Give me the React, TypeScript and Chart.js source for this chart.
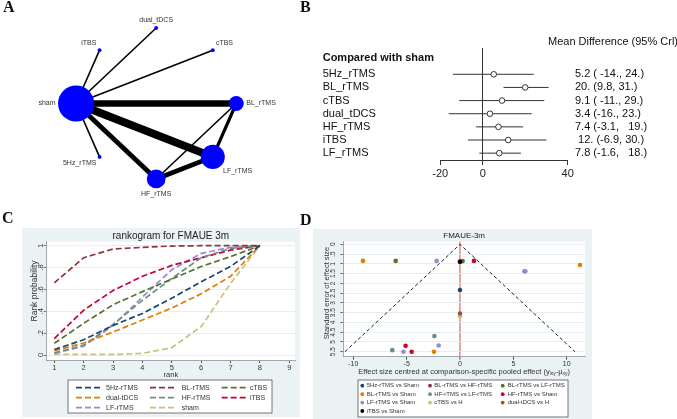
import React, { useEffect, useRef } from 'react';
import { Chart, registerables } from 'chart.js';
Chart.register(...registerables);

const FONT = '"Liberation Sans", Arial, Helvetica, sans-serif';

// ---------------- Panel A: network ----------------
const nodeNames = ['sham', '5Hz_rTMS', 'HF_rTMS', 'LF_rTMS', 'BL_rTMS', 'cTBS', 'dual_tDCS', 'iTBS'];
const nodeParticipants = [260, 3, 70, 115, 45, 3, 3, 3];
const edgeFrom = ['sham', 'sham', 'sham', 'sham', 'sham', 'sham', 'sham', 'BL_rTMS', 'BL_rTMS', 'LF_rTMS'];
const edgeTo = ['BL_rTMS', 'LF_rTMS', 'HF_rTMS', 'iTBS', 'dual_tDCS', 'cTBS', '5Hz_rTMS', 'LF_rTMS', 'HF_rTMS', 'HF_rTMS'];
const edgeStudies = [4, 5, 3, 1, 1, 1, 1, 2, 1, 3];

// ---------------- Panel B: forest ----------------
const forestLabels = ['5Hz_rTMS', 'BL_rTMS', 'cTBS', 'dual_tDCS', 'HF_rTMS', 'iTBS', 'LF_rTMS'];
const forestMean = [5.2, 20, 9.1, 3.4, 7.4, 12, 7.8];
const forestLo = [-14, 9.8, -11, -16, -3.1, -6.9, -1.6];
const forestHi = [24, 31, 29, 23, 19, 30, 18];
const forestText = ['5.2 ( -14., 24.)', '20. (9.8, 31.)', '9.1 ( -11., 29.)', '3.4 (-16., 23.)', '7.4 (-3.1,   19.)', ' 12. (-6.9, 30.)', '7.8 (-1.6,   18.)'];
const forestTicks = [-20, 0, 40];

// ---------------- Panel C: rankogram ----------------
const ranks = [1, 2, 3, 4, 5, 6, 7, 8];
const rankSeriesNames = ['5Hz-rTMS', 'BL-rTMS', 'cTBS', 'dual-tDCS', 'HF-rTMS', 'iTBS', 'LF-rTMS', 'sham'];
const rank5Hz = [0.05, 0.14, 0.27, 0.38, 0.52, 0.67, 0.81, 1];
const rankBL = [0.66, 0.89, 0.97, 0.985, 0.997, 1, 1, 1];
const rankCTBS = [0.107, 0.29, 0.46, 0.58, 0.695, 0.81, 0.9, 1];
const rankDual = [0.04, 0.11, 0.21, 0.32, 0.43, 0.56, 0.72, 1];
const rankHF = [0.02, 0.09, 0.28, 0.5, 0.7, 0.89, 0.975, 1];
const rankITBS = [0.15, 0.41, 0.59, 0.72, 0.82, 0.89, 0.96, 1];
const rankLF = [0.015, 0.08, 0.27, 0.53, 0.78, 0.93, 0.985, 1];
const rankSham = [0.005, 0.005, 0.005, 0.015, 0.067, 0.26, 0.655, 1];
const rankValues = [rank5Hz, rankBL, rankCTBS, rankDual, rankHF, rankITBS, rankLF, rankSham];
const rankXTicks = [1, 2, 3, 4, 5, 6, 7, 8, 9];
const rankYTicks = [0, 0.2, 0.4, 0.6, 0.8, 1];
const rankYTickLabels = ['0', '.2', '.4', '.6', '.8', '1'];
const rankColors = ['#1a476f', '#90353b', '#55752f', '#e37e00', '#6e8e84', '#c10534', '#938dd2', '#cac27e'];

// ---------------- Panel D: funnel ----------------
const funnelSeries = ['5Hz-rTMS vs Sham', 'BL-rTMS vs HF-rTMS', 'BL-rTMS vs LF-rTMS', 'BL-rTMS vs Sham', 'HF-rTMS vs LF-rTMS', 'HF-rTMS vs Sham', 'LF-rTMS vs Sham', 'cTBS vs H', 'dual-tDCS vs H', 'iTBS vs Sham'];
const eff5HzSham = [0];
const se5HzSham = [2.34];
const effBLHF = [0];
const seBLHF = [0.88];
const effBLLF = [-6.03, 0.25];
const seBLLF = [0.85, 0.86];
const effBLSham = [-9.1, 11.25, -2.44];
const seBLSham = [0.85, 1.06, 5.5];
const effHFLF = [6.05, -2.4, -6.35];
const seHFLF = [1.38, 4.7, 5.42];
const effHFSham = [1.31, -5.1, -4.53];
const seHFSham = [0.85, 5.2, 5.5];
const effLFSham = [-2.19, 6.13, -2.0, -5.3];
const seLFSham = [0.85, 1.38, 5.18, 5.5];
const effCTBS = [0];
const seCTBS = [3.68];
const effDual = [0];
const seDual = [3.54];
const effITBS = [0];
const seITBS = [0.89];
const funnelEffects = [eff5HzSham, effBLHF, effBLLF, effBLSham, effHFLF, effHFSham, effLFSham, effCTBS, effDual, effITBS];
const funnelSEs = [se5HzSham, seBLHF, seBLLF, seBLSham, seHFLF, seHFSham, seLFSham, seCTBS, seDual, seITBS];
const funnelLineX = [-10.78, 0, 10.78];
const funnelLineY = [5.5, 0, 5.5];
const funnelXTicks = [-10, -5, 0, 5, 10];
const seTicks = [0, 0.5, 1, 1.5, 2, 2.5, 3, 3.5, 4, 4.5, 5, 5.5];
const seTickLabels = ['0', '.5', '1', '1.5', '2', '2.5', '3', '3.5', '4', '4.5', '5', '5.5'];
const funnelColors = ['#1a476f', '#90353b', '#55752f', '#e37e00', '#6e8e84', '#c10534', '#938dd2', '#cac27e', '#a0522d', '#000000'];

const STATA_BG = '#eaf2f3';
const GRID = '#e1eaed';

function makeNetwork(): any {
  const pos = nodeNames.map((_, i) => {
    const a = Math.PI + (i * Math.PI) / 4;
    return { x: Math.cos(a), y: Math.sin(a) };
  });
  const idx = (n: string) => nodeNames.indexOf(n);
  const edges = edgeFrom.map((f, k) => ({
    type: 'line',
    data: [pos[idx(f)], pos[idx(edgeTo[k])]],
    borderColor: '#000',
    borderWidth: 1.6 * edgeStudies[k],
    pointRadius: 0,
    order: 1,
  }));
  const nodes = {
    type: 'scatter',
    data: pos,
    pointRadius: nodeParticipants.map((n) => 1.12 * Math.sqrt(n)),
    backgroundColor: '#0000ff',
    borderWidth: 0,
    order: 0,
  };
  const labels = {
    id: 'nodeLabels',
    afterDatasetsDraw(chart: any) {
      const ctx = chart.ctx;
      const meta = chart.getDatasetMeta(0);
      ctx.save();
      ctx.font = `7px ${FONT}`;
      ctx.fillStyle = '#333';
      meta.data.forEach((pt: any, i: number) => {
        const a = Math.PI + (i * Math.PI) / 4;
        const dx = Math.cos(a);
        const dy = -Math.sin(a);
        const r = pt.options.radius + 2.5;
        ctx.textAlign = dx < -0.3 ? 'right' : dx > 0.3 ? 'left' : 'center';
        ctx.textBaseline = dy < -0.3 ? 'bottom' : dy > 0.3 ? 'top' : 'middle';
        ctx.fillText(nodeNames[i], pt.x + dx * r, pt.y + dy * r);
      });
      ctx.restore();
    },
  };
  return {
    type: 'scatter',
    data: { datasets: [nodes, ...edges] },
    options: {
      animation: false,
      responsive: false,
      events: [],
      layout: { padding: 0 },
      plugins: { legend: { display: false }, tooltip: { enabled: false } },
      scales: {
        x: { type: 'linear', min: -1.725, max: 1.571, display: false },
        y: { type: 'linear', min: -1.198, max: 1.132, display: false },
      },
    },
    plugins: [labels],
  };
}

function makeForest(): any {
  const bars = forestLabels.map((_, i) => ({
    type: 'line',
    data: [
      { x: forestLo[i], y: i },
      { x: forestHi[i], y: i },
    ],
    borderColor: '#333',
    borderWidth: 1,
    pointRadius: 0,
    order: 1,
  }));
  const means = {
    type: 'scatter',
    data: forestMean.map((m, i) => ({ x: m, y: i })),
    pointRadius: 2.8,
    backgroundColor: '#fff',
    borderColor: '#333',
    borderWidth: 1,
    order: 0,
  };
  const text = {
    id: 'forestText',
    afterDraw(chart: any) {
      const ctx = chart.ctx;
      const y = chart.scales.y;
      const a = chart.chartArea;
      ctx.save();
      ctx.fillStyle = '#111';
      ctx.textBaseline = 'middle';
      ctx.textAlign = 'left';
      ctx.font = `11px ${FONT}`;
      ctx.fillText('Mean Difference (95% Crl)', 248, a.top - 5.7);
      ctx.font = `bold 11px ${FONT}`;
      ctx.fillText('Compared with sham', 22.7, y.getPixelForValue(-1.22));
      ctx.font = `11px ${FONT}`;
      forestLabels.forEach((l, i) => {
        const py = y.getPixelForValue(i);
        ctx.fillText(l, 22.7, py);
        ctx.fillText(forestText[i], 275, py);
      });
      ctx.restore();
    },
  };
  return {
    type: 'scatter',
    data: { datasets: [means, ...bars] },
    options: {
      animation: false,
      responsive: false,
      events: [],
      layout: { padding: { left: 140.2, right: 109.3, top: 48, bottom: 0 } },
      plugins: { legend: { display: false }, tooltip: { enabled: false } },
      scales: {
        x: {
          type: 'linear',
          min: -20,
          max: 40,
          afterBuildTicks: (s: any) => {
            s.ticks = forestTicks.map((v) => ({ value: v }));
          },
          afterFit: (s: any) => {
            s.height = 52;
          },
          ticks: { font: { family: FONT, size: 11 }, color: '#222', padding: 2, maxRotation: 0, autoSkip: false },
          grid: {
            color: (c: any) => (c.tick && c.tick.value === 0 ? '#333' : 'rgba(0,0,0,0)'),
            tickColor: '#333',
            tickLength: 5,
            lineWidth: 1,
          },
          border: { color: '#333', width: 1 },
        },
        y: { type: 'linear', reverse: true, min: -2, max: 6.52, display: false },
      },
    },
    plugins: [text],
  };
}

function bgPlugin() {
  return {
    id: 'stataBg',
    beforeDraw(chart: any) {
      const { ctx, width, height, chartArea: a } = chart;
      ctx.save();
      ctx.fillStyle = STATA_BG;
      ctx.fillRect(0, 0, width, height);
      ctx.fillStyle = '#fff';
      ctx.fillRect(a.left, a.top, a.right - a.left, a.bottom - a.top);
      ctx.restore();
    },
  };
}

function drawRotated(ctx: any, text: string, x: number, y: number) {
  ctx.save();
  ctx.translate(x, y);
  ctx.rotate(-Math.PI / 2);
  ctx.fillText(text, 0, 0);
  ctx.restore();
}

function makeRankogram(): any {
  const datasets = rankSeriesNames.map((name, i) => ({
    type: 'line',
    label: name,
    data: ranks.map((r, k) => ({ x: r, y: rankValues[i][k] })),
    borderColor: rankColors[i],
    borderWidth: 1.7,
    borderDash: [6, 3],
    pointRadius: 0,
    tension: 0,
  }));
  const deco = {
    id: 'rankDeco',
    afterDraw(chart: any) {
      const ctx = chart.ctx;
      const a = chart.chartArea;
      const y = chart.scales.y;
      ctx.save();
      ctx.fillStyle = '#222';
      ctx.textAlign = 'center';
      ctx.textBaseline = 'middle';
      ctx.font = `10px ${FONT}`;
      ctx.fillText('rankogram for FMAUE 3m', (a.left + a.right) / 2, 8);
      ctx.font = `8.5px ${FONT}`;
      ctx.fillStyle = '#333';
      drawRotated(ctx, 'Rank probability', 12.3, 63);
      ctx.font = `7.5px ${FONT}`;
      rankYTicks.forEach((v, i) => drawRotated(ctx, rankYTickLabels[i], 18.7, y.getPixelForValue(v)));
      // legend
      const bx = 46, by = 152, bw = 204, bh = 33;
      ctx.fillStyle = '#fff';
      ctx.fillRect(bx, by, bw, bh);
      ctx.strokeStyle = '#555';
      ctx.lineWidth = 0.8;
      ctx.strokeRect(bx, by, bw, bh);
      const lineX = [54, 128, 199.7];
      const textX = [84, 159.7, 228];
      ctx.font = `7px ${FONT}`;
      ctx.textAlign = 'left';
      chart.data.datasets.forEach((ds: any, i: number) => {
        const col = i % 3;
        const row = Math.floor(i / 3);
        const ly = by + 7.7 + row * 10;
        ctx.strokeStyle = ds.borderColor;
        ctx.lineWidth = 1.7;
        ctx.setLineDash([6, 3]);
        ctx.beginPath();
        ctx.moveTo(lineX[col], ly);
        ctx.lineTo(lineX[col] + 25, ly);
        ctx.stroke();
        ctx.setLineDash([]);
        ctx.fillStyle = '#333';
        ctx.fillText(ds.label, textX[col], ly);
      });
      ctx.restore();
    },
  };
  return {
    type: 'scatter',
    data: { datasets },
    options: {
      animation: false,
      responsive: false,
      events: [],
      layout: { padding: { left: 0, right: 5, top: 13.7, bottom: 38 } },
      plugins: { legend: { display: false }, tooltip: { enabled: false } },
      scales: {
        x: {
          type: 'linear',
          min: 0.741,
          max: 9.194,
          afterBuildTicks: (s: any) => {
            s.ticks = rankXTicks.map((v) => ({ value: v }));
          },
          afterFit: (s: any) => {
            s.height = 19;
          },
          ticks: { font: { family: FONT, size: 7.5 }, color: '#333', padding: 0, maxRotation: 0, autoSkip: false },
          grid: { drawOnChartArea: false, tickColor: '#555', tickLength: 3 },
          border: { color: '#8a9498', width: 0.8 },
          title: { display: true, text: 'rank', font: { family: FONT, size: 7.5 }, color: '#333', padding: 0 },
        },
        y: {
          type: 'linear',
          min: -0.0457,
          max: 1.0366,
          afterBuildTicks: (s: any) => {
            s.ticks = rankYTicks.map((v) => ({ value: v }));
          },
          afterFit: (s: any) => {
            s.width = 24.7;
          },
          ticks: { display: false },
          grid: { color: GRID, lineWidth: 0.8, tickColor: '#555', tickLength: 3 },
          border: { color: '#8a9498', width: 0.8 },
        },
      },
    },
    plugins: [bgPlugin(), deco],
  };
}

function makeFunnel(): any {
  const points = funnelSeries.map((name, i) => ({
    type: 'scatter',
    label: name,
    data: funnelEffects[i].map((e, k) => ({ x: e, y: funnelSEs[i][k] })),
    backgroundColor: funnelColors[i],
    borderWidth: 0,
    pointRadius: 2.3,
    order: -i,
  }));
  const funnel = {
    type: 'line',
    label: 'funnel',
    data: funnelLineX.map((x, k) => ({ x, y: funnelLineY[k] })),
    borderColor: '#222',
    borderWidth: 1,
    borderDash: [3.5, 2.5],
    pointRadius: 0,
    order: 5,
  };
  const deco = {
    id: 'funnelDeco',
    afterDraw(chart: any) {
      const ctx = chart.ctx;
      const a = chart.chartArea;
      const y = chart.scales.y;
      const cx = (a.left + a.right) / 2;
      ctx.save();
      ctx.fillStyle = '#222';
      ctx.textAlign = 'center';
      ctx.textBaseline = 'middle';
      ctx.font = `8px ${FONT}`;
      ctx.fillText('FMAUE-3m', cx, 6.7);
      ctx.fillStyle = '#333';
      ctx.font = `7.5px ${FONT}`;
      drawRotated(ctx, 'Standard error of effect size', 13.7, 64);
      ctx.font = `6.5px ${FONT}`;
      seTicks.forEach((v, i) => drawRotated(ctx, seTickLabels[i], 20, y.getPixelForValue(v)));
      // x title with subscripts
      const parts: [string, boolean][] = [
        ['Effect size centred at comparison-specific pooled effect (', false],
        ['y', false],
        ['ixy', true],
        ['-\u03bc', false],
        ['xy', true],
        [')', false],
      ];
      const mainF = `7.5px ${FONT}`;
      const subF = `5px ${FONT}`;
      let total = 0;
      parts.forEach(([t, s]) => {
        ctx.font = s ? subF : mainF;
        total += ctx.measureText(t).width;
      });
      let x = cx - total / 2;
      ctx.textAlign = 'left';
      const ty = 143.3;
      parts.forEach(([t, s]) => {
        ctx.font = s ? subF : mainF;
        ctx.fillText(t, x, s ? ty + 1.8 : ty);
        x += ctx.measureText(t).width;
      });
      // legend
      const bx = 45, by = 151, bw = 210, bh = 37;
      ctx.fillStyle = '#fff';
      ctx.fillRect(bx, by, bw, bh);
      ctx.strokeStyle = '#555';
      ctx.lineWidth = 0.8;
      ctx.strokeRect(bx, by, bw, bh);
      const mX = [49.3, 117, 189.7];
      const tX = [53.7, 121.3, 194.7];
      ctx.font = `6px ${FONT}`;
      funnelSeries.forEach((name, i) => {
        const col = i % 3;
        const row = Math.floor(i / 3);
        const ly = by + 5.7 + row * 8.43;
        ctx.fillStyle = funnelColors[i];
        ctx.beginPath();
        ctx.arc(mX[col], ly, 1.9, 0, Math.PI * 2);
        ctx.fill();
        ctx.fillStyle = '#333';
        ctx.fillText(name, tX[col], ly);
      });
      ctx.restore();
    },
  };
  return {
    type: 'scatter',
    data: { datasets: [...points, funnel] },
    options: {
      animation: false,
      responsive: false,
      events: [],
      layout: { padding: { left: 0, right: 7, top: 12.7, bottom: 42.3 } },
      plugins: { legend: { display: false }, tooltip: { enabled: false } },
      scales: {
        x: {
          type: 'linear',
          min: -10.94,
          max: 11.72,
          afterBuildTicks: (s: any) => {
            s.ticks = funnelXTicks.map((v) => ({ value: v }));
          },
          afterFit: (s: any) => {
            s.height = 20;
          },
          ticks: { font: { family: FONT, size: 7 }, color: '#333', padding: 0, maxRotation: 0, autoSkip: false },
          grid: {
            color: (c: any) => (c.tick && c.tick.value === 0 ? '#e79a9a' : 'rgba(0,0,0,0)'),
            lineWidth: (c: any) => (c.tick && c.tick.value === 0 ? 1.8 : 1),
            tickColor: '#555',
            tickWidth: 1,
            tickLength: 3,
          },
          border: { color: '#8a9498', width: 0.8 },
        },
        y: {
          type: 'linear',
          reverse: true,
          min: -0.133,
          max: 5.756,
          afterBuildTicks: (s: any) => {
            s.ticks = seTicks.map((v) => ({ value: v }));
          },
          afterFit: (s: any) => {
            s.width = 30.3;
          },
          ticks: { display: false },
          grid: { color: GRID, lineWidth: 0.8, tickColor: '#555', tickLength: 3 },
          border: { color: '#8a9498', width: 0.8 },
        },
      },
    },
    plugins: [bgPlugin(), deco],
  };
}

function ChartBox(props: { left: number; top: number; width: number; height: number; make: () => any }) {
  const ref = useRef<HTMLCanvasElement>(null);
  useEffect(() => {
    const chart = new Chart(ref.current as HTMLCanvasElement, props.make());
    return () => chart.destroy();
  }, []);
  return (
    <canvas
      ref={ref}
      width={props.width}
      height={props.height}
      style={{ position: 'absolute', left: props.left, top: props.top, width: props.width, height: props.height }}
    />
  );
}

const letterStyle: React.CSSProperties = {
  position: 'absolute',
  fontFamily: '"Liberation Serif", "Times New Roman", serif',
  fontWeight: 'bold',
  fontSize: 16,
  lineHeight: '16px',
  color: '#111',
  zIndex: 2,
};

export default function App() {
  return (
    <div style={{ position: 'absolute', left: 0, top: 0, width: 677, height: 419, background: '#fff', overflow: 'hidden' }}>
      <ChartBox left={0} top={0} width={300} height={212} make={makeNetwork} />
      <ChartBox left={300} top={0} width={377} height={212} make={makeForest} />
      <ChartBox left={22} top={228} width={278} height={189} make={makeRankogram} />
      <ChartBox left={313} top={229} width={279} height={190} make={makeFunnel} />
      <div style={{ ...letterStyle, left: 3, top: -1 }}>A</div>
      <div style={{ ...letterStyle, left: 300, top: -1 }}>B</div>
      <div style={{ ...letterStyle, left: 2, top: 210 }}>C</div>
      <div style={{ ...letterStyle, left: 300, top: 212 }}>D</div>
    </div>
  );
}
